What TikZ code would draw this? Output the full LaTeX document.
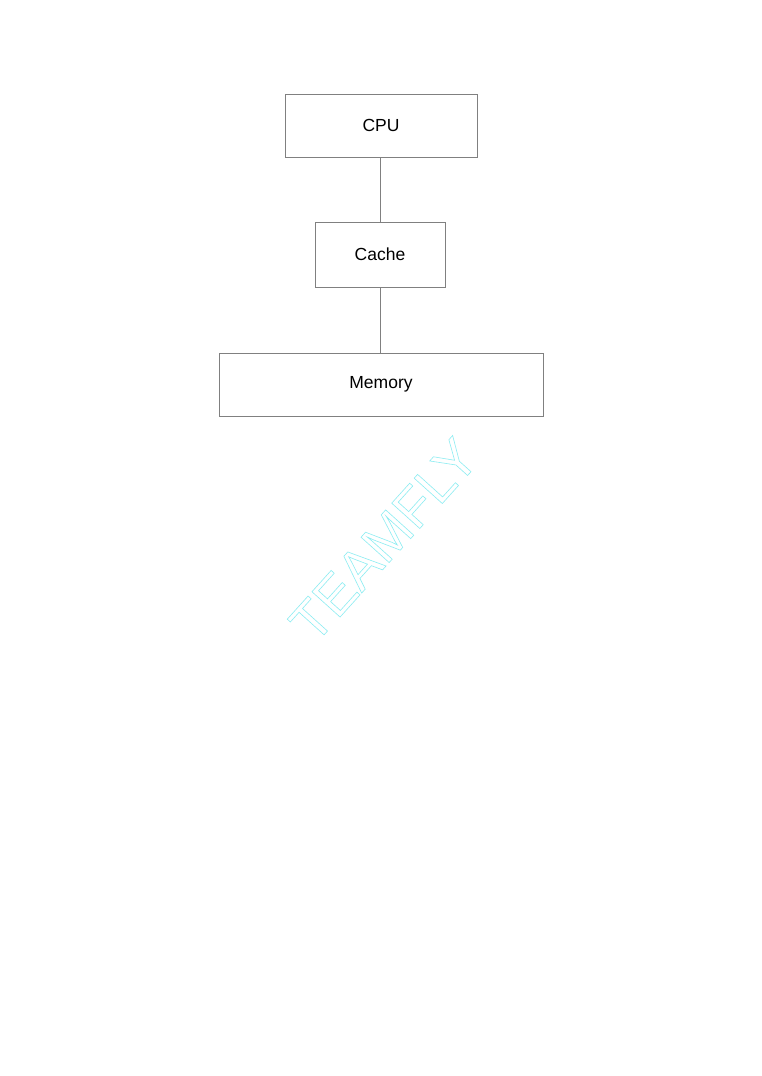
\documentclass[tikz,border=0pt]{standalone}
\usepackage{fontspec}
\setmainfont{Liberation Sans}
\begin{document}
\begin{tikzpicture}[x=1pt,y=-1pt,
  box/.style={draw=black!50, line width=0.9pt, inner sep=0pt, font=\fontsize{17.5}{20}\selectfont},
  link/.style={draw=black!50, line width=0.9pt}]
\useasboundingbox (0,0) rectangle (761,1076);
\fill[white] (0,0) rectangle (761,1076);
\node[box, minimum width=192pt, minimum height=63pt] (cpu) at (381,125.5) {CPU};
\node[box, minimum width=130pt, minimum height=65pt] (cache) at (380,254.5) {Cache};
\node[box, minimum width=324pt, minimum height=63pt] (mem) at (381,384.5) {Memory};
\draw[link] (cpu.south -| cache) -- (cache.north);
\draw[link] (cache.south) -- (cache.south |- mem.north);
\node[text=cyan!20, rotate=48, font=\fontsize{55}{60}\selectfont] (wm) at (384,540) {\special{pdf:literal direct 1 Tr 0.6 w 0.55 0.93 0.95 RG}TEAMFLY\special{pdf:literal direct 0 Tr}};
\end{tikzpicture}
\end{document}
